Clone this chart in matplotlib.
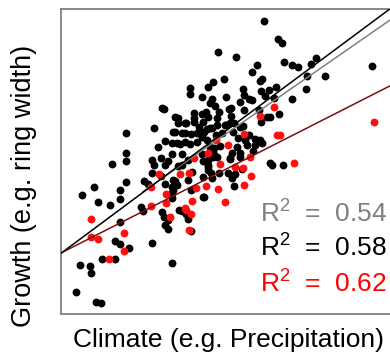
import matplotlib
matplotlib.use("Agg")
import matplotlib.pyplot as plt
import numpy as np

plt.rcParams['font.family'] = ['Liberation Sans', 'DejaVu Sans']
plt.rcParams['mathtext.fontset'] = 'custom'
plt.rcParams['mathtext.rm'] = 'Liberation Sans'
plt.rcParams['mathtext.it'] = 'Liberation Sans'

# Points (pixel-like units: x to the right, y upward)
black_px = [
    (264,21),(278,39),(282,43),(218,52),(236,57),(316,58),(284,62),(257,65),(292,65),(298,67),
    (311,64),(372,66),(252,72),(325,76),(307,76),(224,79),(213,82),(262,79),(260,81),(208,87),
    (190,88),(190,94),(243,89),(269,90),(276,87),(306,89),(261,91),(244,95),(265,96),(202,97),
    (226,97),(212,99),(249,99),(252,100),(274,98),(292,99),(240,102),(210,103),(215,106),(162,108),
    (164,109),(229,109),(231,108),(244,110),(206,112),(219,112),(194,113),(202,114),(259,110),
    (231,116),(270,117),(279,114),(178,118),(194,118),(208,117),(217,118),(267,117),(186,123),
    (178,123),(194,122),(203,122),(226,125),(234,123),(261,122),(154,128),(199,127),(207,129),
    (212,128),(243,126),(173,132),(185,133),(191,134),(126,133),(204,132),(216,135),(222,133),
    (233,132),(249,135),(255,139),(238,138),(245,140),(262,143),(165,141),(180,144),(190,144),
    (207,140),(158,147),(220,146),(237,147),(247,145),(214,148),(126,153),(172,154),(182,154),
    (202,154),(214,155),(232,153),(253,151),(126,161),(152,160),(161,158),(168,161),(188,160),
    (213,157),(240,157),(112,164),(154,165),(165,165),(178,166),(203,161),(208,165),(230,159),
    (272,165),(283,165),(94,187),(82,195),(98,202),(110,205),(120,190),(126,182),(120,199),
    (144,181),(148,184),(152,173),(161,176),(165,184),(172,187),(175,181),(182,165),(188,180),
    (192,172),(208,167),(211,173),(219,173),(228,173),(235,174),(242,169),(234,186),(204,197),
    (191,190),(172,193),(141,207),(143,211),(162,212),(164,217),(168,220),(179,210),(182,211),
    (186,214),(188,219),(191,231),(165,225),(168,229),(120,222),(115,241),(120,244),(129,248),
    (152,243),(102,259),(115,259),(80,265),(90,266),(91,273),(172,263),(76,292),(96,302),(101,303),
    (175,117),(185,123),(175,132),(182,133),(197,133),(202,137),(210,128),(217,125),(225,125),
    (230,123),(240,127),(172,143),(177,143),(185,142),(197,142),(210,147),(213,152),(217,157),
    (208,160),(230,158),(240,153),(255,145),(260,140),(270,163),(173,180),(177,185),(203,177),
    (208,170),(212,178),(232,178),(203,197),(173,190),(172,198),
]
red_px = [
    (274,107),(260,116),(374,122),(277,135),(244,134),(216,140),(228,145),(208,153),(194,158),
    (250,157),(220,164),(294,163),(235,167),(243,168),(159,174),(180,174),(189,173),(251,176),
    (196,188),(206,186),(218,189),(244,185),(166,194),(151,187),(192,201),(225,202),(166,203),
    (151,206),(186,210),(191,214),(170,217),(189,230),(91,219),(91,237),(98,239),(124,233),
    (124,251),(109,259),(280,135),(185,208),
]
black_x = [p[0] - 61 for p in black_px]
black_y = [314 - p[1] for p in black_px]
red_x = [p[0] - 61 for p in red_px]
red_y = [314 - p[1] for p in red_px]

# Regression lines: (slope, intercept, x start)
line_black = (0.743, 60.7, 0)
line_gray = (0.694, 65.6, 82)
line_red = (0.508, 61.0, 0)

r2_labels = ["R$^{2}$  =  0.54", "R$^{2}$  =  0.58", "R$^{2}$  =  0.62"]
r2_colors = ["#808080", "#000000", "#ff0000"]

fig = plt.figure(figsize=(3.9, 3.55), dpi=100)
ax = fig.add_axes([61/390, (355-314)/355, (394-61)/390, (314-9)/355])
xmax = 333
ax.set_xlim(0, xmax)
ax.set_ylim(0, 305)

ax.scatter(black_x, black_y, s=32, color='black', linewidths=0, zorder=2)
ax.scatter(red_x, red_y, s=32, color='#ff1010', linewidths=0, zorder=3)

for (m, b, x0), c in [(line_red, '#7a1010'), (line_gray, '#808080'), (line_black, 'black')]:
    xs = np.array([x0, xmax])
    ax.plot(xs, m * xs + b, color=c, lw=1.1, zorder=4)

for i, (t, c) in enumerate(zip(r2_labels, r2_colors)):
    ax.text(199, [91, 57, 21][i], t, color=c, fontsize=19, va='baseline', ha='left', zorder=5)

ax.set_xticks([])
ax.set_yticks([])
for s in ax.spines.values():
    s.set_color('#808080')
    s.set_linewidth(1.3)

fig.text(73/390, 1 - 347/355, "Climate (e.g. Precipitation)", fontsize=19, ha='left', va='baseline')
fig.text(24/390, 1 - 186/355, "Growth (e.g. ring width)", fontsize=19.5, rotation=90, ha='center', va='center')

fig.savefig("out.png", dpi=100)
